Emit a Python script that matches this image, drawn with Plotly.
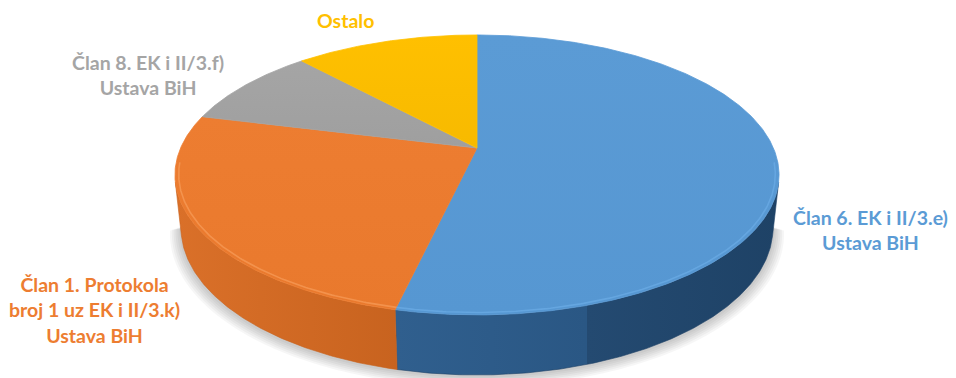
import numpy as np
import plotly.graph_objects as go

# Data
labels = [
    "Član 6. EK i II/3.e)<br>Ustava BiH",
    "Član 1. Protokola<br>broj 1 uz EK i II/3.k)<br>Ustava BiH",
    "Član 8. EK i II/3.f)<br>Ustava BiH",
    "Ostalo",
]
values = [53.6, 25.3, 9.3, 11.8]

# Styles
top_colors = ["#5B9BD5", "#ED7D31", "#A5A5A5", "#FFC000"]
top_shade = ["#5697D2", "#E9792D", "#9F9F9F", "#F7BA00"]
side_scales = [
    [[0, "#305F8E"], [0.5, "#2A5784"], [0.5, "#244A71"], [1, "#1E4266"]],
    [[0, "#DA7029"], [1, "#C8631F"]],
    [[0, "#7C7C7C"], [1, "#6A6A6A"]],
    [[0, "#C99600"], [1, "#B88900"]],
]
rim_colors = ["#6DAEE8", "#F9A05E", "#BDBDBD", "#FFD24D"]
label_colors = ["#5B9BD5", "#ED7D31", "#A5A5A5", "#FFC000"]
label_pos = [(870, 230), (94, 310), (148, 75), (345, 20)]

# Perspective camera for the 3-D disc (radius = 1)
CX, CY = 477.0, 148.0
FOCAL = 1370.6
DIST = 4.624
ELEV = np.arcsin(0.4548)
SIN_E, COS_E = np.sin(ELEV), np.cos(ELEV)
THICK = 0.2005


def project(phi_deg, r=1.0, z=0.0):
    """Angle measured clockwise from the far side of the disc."""
    phi = np.radians(np.asarray(phi_deg, dtype=float))
    x = r * np.sin(phi)
    y = r * np.cos(phi)
    w = DIST + y * COS_E - z * SIN_E
    v = y * SIN_E + z * COS_E
    return CX + FOCAL * x / w, CY - FOCAL * v / w


def arc(a, b, step=0.5):
    n = max(int(abs(b - a) / step), 2)
    return np.linspace(a, b, n)


# front part of the side wall that faces the camera
half_vis = np.degrees(np.arccos(1.0 / (DIST * COS_E)))
VIS_A, VIS_B = 180 - half_vis, 180 + half_vis

total = float(sum(values))
bounds = np.concatenate([[0], np.cumsum(values) / total * 360.0])

fig = go.Figure()

# soft shadow under the disc
full = arc(VIS_A - 4, VIS_B + 4, 1.0)
for k in range(6):
    grow = 1.0 + 0.006 * (k + 1)
    xs, ys = project(full, r=grow, z=-THICK)
    xt, yt = project(full[::-1], r=0.9, z=-THICK)
    fig.add_trace(go.Scatter(
        x=np.concatenate([xs, xt]), y=np.concatenate([ys + 1.5 + k * 0.5, yt]),
        fill="toself", fillcolor="rgba(0,0,0,0.035)", mode="none",
        hoverinfo="skip", showlegend=False))

# side walls
for i in range(len(values)):
    a, b = bounds[i], bounds[i + 1]
    lo, hi = max(a, VIS_A), min(b, VIS_B)
    if hi <= lo:
        continue
    ang = arc(lo, hi)
    xt, yt = project(ang, z=0.0)
    xb, yb = project(ang[::-1], z=-THICK)
    xs = np.concatenate([xt, xb, xt[:1]])
    ys = np.concatenate([yt, yb, yt[:1]])
    fig.add_trace(go.Scatter(
        x=xs, y=ys, fill="toself", mode="lines",
        line=dict(color=side_scales[i][-1][1], width=0.6),
        fillgradient=dict(type="horizontal", colorscale=side_scales[i],
                          start=float(xs.min()), stop=float(xs.max())),
        hoverinfo="skip", showlegend=False))

# top faces
for i in range(len(values)):
    a, b = bounds[i], bounds[i + 1]
    ang = arc(a, b)
    xr, yr = project(ang)
    xs = np.concatenate([[CX], xr, [CX]])
    ys = np.concatenate([[CY], yr, [CY]])
    fig.add_trace(go.Scatter(
        x=xs, y=ys, fill="toself", mode="lines",
        line=dict(color=top_colors[i], width=0.8),
        fillgradient=dict(type="vertical",
                          colorscale=[[0, top_colors[i]], [1, top_shade[i]]],
                          start=float(ys.min()), stop=float(ys.max())),
        hoverinfo="skip", showlegend=False))

# bevel highlight along the front rim
for i in range(len(values)):
    a, b = bounds[i], bounds[i + 1]
    lo, hi = max(a, VIS_A - 8), min(b, VIS_B + 8)
    if hi <= lo:
        continue
    xr, yr = project(arc(lo, hi), r=0.988)
    fig.add_trace(go.Scatter(
        x=xr, y=yr, mode="lines",
        line=dict(color=rim_colors[i], width=1.6),
        opacity=0.65, hoverinfo="skip", showlegend=False))

annotations = []
for i, text in enumerate(labels):
    x, y = label_pos[i]
    annotations.append(dict(
        x=x, y=y, xref="x", yref="y", text=text, showarrow=False,
        align="center", xanchor="center", yanchor="middle",
        font=dict(family="Lato", size=19.5, color=label_colors[i],
                  weight="bold")))

fig.update_layout(
    width=956, height=378,
    margin=dict(l=0, r=0, t=0, b=0),
    paper_bgcolor="white", plot_bgcolor="white",
    xaxis=dict(range=[0, 956], visible=False, fixedrange=True),
    yaxis=dict(range=[378, 0], visible=False, fixedrange=True),
    annotations=annotations,
    showlegend=False,
)

fig.write_html("out.html")
